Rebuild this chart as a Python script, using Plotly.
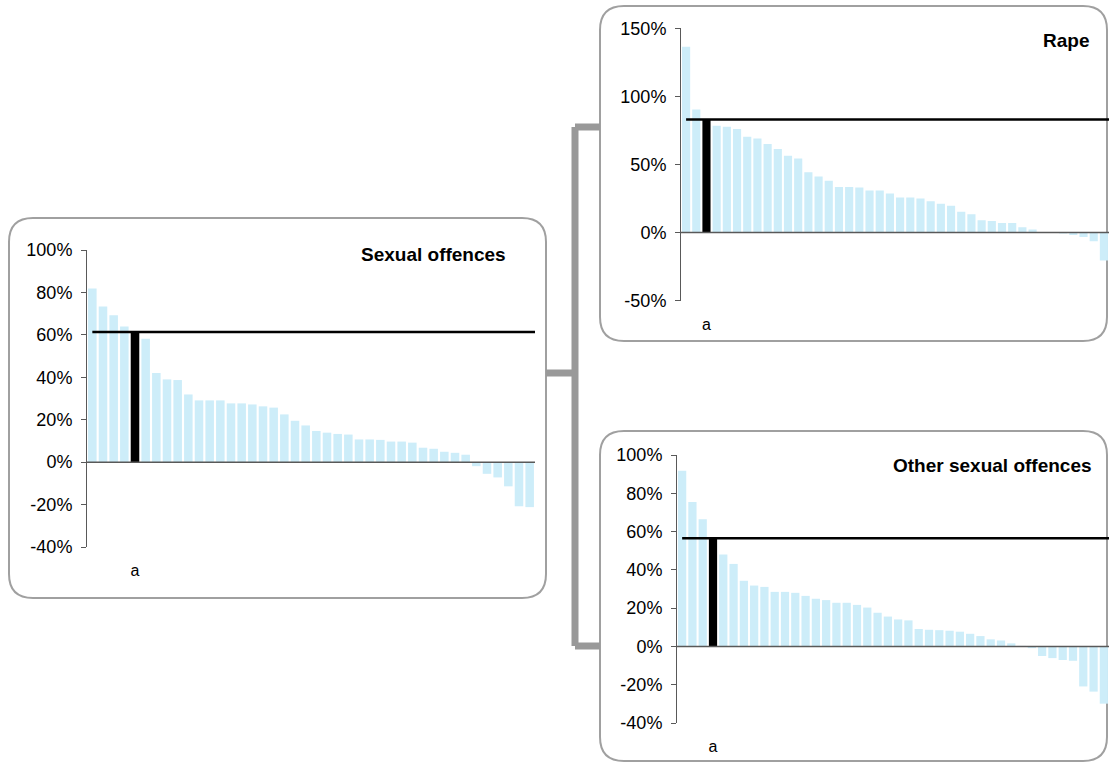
import plotly.graph_objects as go

W, H = 1109, 763

# ---------------- data ----------------
sexual_offences = [81.8, 73.4, 69.2, 63.9, 61.3, 58.2, 42.0, 39.0, 38.7, 31.9,
                   29.1, 29.1, 29.1, 27.7, 27.7, 27.2, 26.3, 25.7, 22.5, 19.5,
                   17.3, 14.7, 13.9, 13.3, 13.0, 10.7, 10.7, 10.5, 9.7, 9.7,
                   9.2, 6.8, 6.3, 4.9, 4.4, 3.5, -1.9, -5.5, -7.2, -11.4,
                   -20.8, -21.2]
sexual_avg = 61.3
sexual_idx = 4

rape = [136.5, 90.4, 83.1, 78.5, 77.8, 76.1, 70.4, 69.0, 65.1, 61.4,
        56.5, 54.4, 44.3, 41.2, 38.0, 33.4, 33.4, 33.1, 30.9, 30.9,
        28.7, 25.8, 25.8, 25.1, 23.1, 21.2, 19.7, 15.4, 13.4, 9.0,
        8.5, 7.0, 7.0, 3.9, 2.2, 0.2, 0.0, -0.7, -1.7, -3.2,
        -6.4, -20.5]
rape_avg = 83.1
rape_idx = 2

other_sexual = [91.8, 75.5, 66.4, 56.5, 48.0, 43.1, 34.3, 31.8, 31.1, 28.5,
                28.5, 28.0, 26.4, 24.9, 24.2, 22.8, 22.8, 21.7, 20.3, 17.6,
                15.6, 14.1, 13.6, 9.1, 8.7, 8.5, 8.2, 7.7, 6.6, 5.4,
                3.7, 3.1, 1.6, 0.3, -0.9, -5.0, -6.1, -7.1, -7.5, -20.9,
                -23.6, -29.9]
other_avg = 56.5
other_idx = 3

sexual_ticks = [-40, -20, 0, 20, 40, 60, 80, 100]
rape_ticks = [-50, 0, 50, 100, 150]
other_ticks = [-40, -20, 0, 20, 40, 60, 80, 100]

highlight_label = "a"
titles = ["Sexual offences", "Rape", "Other sexual offences"]

# ---------------- styling ----------------
FONT = "Arial, Liberation Sans, sans-serif"
BAR = "#CDEDF9"
AXIS = "#595959"
BOX = "#A0A0A0"
CONN = "#999999"


def px(x):
    return x / W


def py(y):
    return 1 - y / H


panels = [
    (sexual_offences, sexual_avg, sexual_idx, sexual_ticks, 87, 535, 250, 547, titles[0], 508, 255),
    (rape, rape_avg, rape_idx, rape_ticks, 681, 1109, 28.3, 300.7, titles[1], 1091, 41),
    (other_sexual, other_avg, other_idx, other_ticks, 677, 1109, 455, 723, titles[2], 1094, 465),
]

fig = go.Figure()
shapes = []
annotations = []


def rounded_box(x0, y0, x1, y1, r):
    rx, ry = r / W, r / H
    X0, X1 = px(x0), px(x1)
    Y0, Y1 = py(y0), py(y1)
    path = (f"M {X0+rx},{Y0} L {X1-rx},{Y0} Q {X1},{Y0} {X1},{Y0-ry} "
            f"L {X1},{Y1+ry} Q {X1},{Y1} {X1-rx},{Y1} "
            f"L {X0+rx},{Y1} Q {X0},{Y1} {X0},{Y1+ry} "
            f"L {X0},{Y0-ry} Q {X0},{Y0} {X0+rx},{Y0} Z")
    return dict(type="path", xref="paper", yref="paper", path=path,
                line=dict(color=BOX, width=2), fillcolor="rgba(0,0,0,0)", layer="below")


shapes.append(rounded_box(9, 218, 546, 598, 24))
shapes.append(rounded_box(600, 6, 1107, 341, 24))
shapes.append(rounded_box(600, 431, 1107, 761, 24))

for (xa, ya, xb, yb) in [(575, 127, 575, 646), (575, 127, 600, 127),
                         (575, 646, 600, 646), (546, 373, 575, 373)]:
    shapes.append(dict(type="line", xref="paper", yref="paper",
                       x0=px(xa), y0=py(ya), x1=px(xb), y1=py(yb),
                       line=dict(color=CONN, width=7), layer="below"))

layout_axes = {}
for i, (vals, avg, idx, ticks, x0, x1, yt, yb, title, tx, ty) in enumerate(panels):
    n = len(vals)
    xs = list(range(n))
    colors = [("#000000" if k == idx else BAR) for k in xs]
    suffix = "" if i == 0 else str(i + 1)
    fig.add_trace(go.Bar(x=xs, y=vals, marker=dict(color=colors, line=dict(width=0)),
                         xaxis="x" + suffix, yaxis="y" + suffix, showlegend=False,
                         hoverinfo="y"))
    # horizontal category axis crossing at zero (drawn above the bars)
    shapes.append(dict(type="line", xref="x" + suffix + " domain", yref="y" + suffix,
                       x0=0, x1=1, y0=0, y1=0, layer="above",
                       line=dict(color=AXIS, width=1.5)))
    # average line from first bar centre to right edge
    fig.add_trace(go.Scatter(x=[0, n - 0.5], y=[avg, avg], mode="lines",
                             line=dict(color="#000000", width=2.5),
                             xaxis="x" + suffix, yaxis="y" + suffix,
                             showlegend=False, hoverinfo="skip", cliponaxis=False))
    layout_axes["xaxis" + suffix] = dict(
        domain=[px(x0), px(x1)], anchor="y" + suffix, range=[-0.5, n - 0.5],
        tickmode="array", tickvals=[idx], ticktext=[highlight_label],
        showgrid=False, zeroline=False, showline=False, ticks="",
        ticklabelstandoff=12, automargin=False,
        tickfont=dict(family=FONT, size=16, color="#000000"),
        fixedrange=True)
    layout_axes["yaxis" + suffix] = dict(
        domain=[py(yb), py(yt)], anchor="x" + suffix,
        range=[ticks[0], ticks[-1]],
        tickmode="array", tickvals=ticks, ticktext=[f"{t}%" for t in ticks],
        showgrid=False, zeroline=False,
        showline=True, linecolor=AXIS, linewidth=1, ticks="outside",
        ticklen=5, tickcolor=AXIS, ticklabelstandoff=5, automargin=False,
        tickfont=dict(family=FONT, size=18, color="#000000"),
        fixedrange=True)
    annotations.append(dict(text=f"<b>{title}</b>", xref="paper", yref="paper",
                            x=px(tx), y=py(ty), xanchor="right", yanchor="middle",
                            showarrow=False,
                            font=dict(family=FONT, size=19, color="#000000")))

fig.update_layout(
    width=W, height=H, autosize=False,
    margin=dict(l=0, r=0, t=0, b=0, pad=0),
    paper_bgcolor="#FFFFFF", plot_bgcolor="rgba(0,0,0,0)",
    bargap=0.2, shapes=shapes, annotations=annotations,
    font=dict(family=FONT),
    **layout_axes,
)

fig.write_html("out.html",
               config={"displayModeBar": False, "staticPlot": True},
               post_script="document.body.style.margin='0';document.body.style.overflow='hidden';")
